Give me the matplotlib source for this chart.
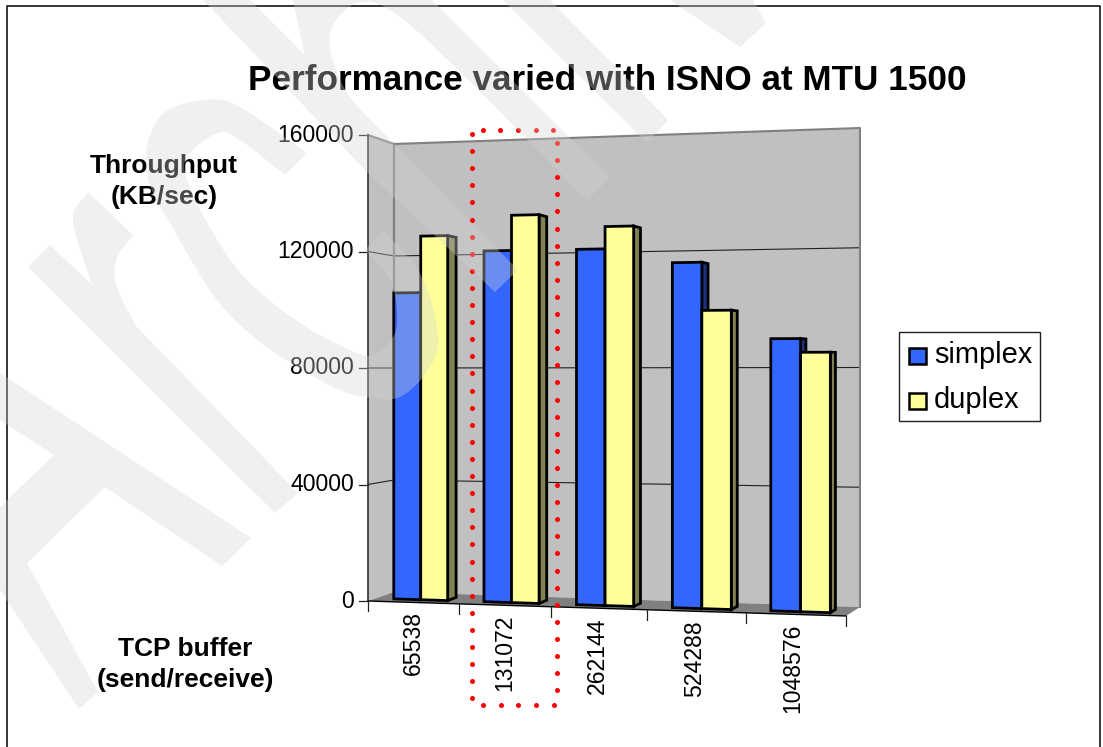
import numpy as np
import matplotlib
matplotlib.use("Agg")
import matplotlib.pyplot as plt
from matplotlib.patches import Polygon, Rectangle

plt.rcParams['font.family'] = ['Liberation Sans', 'DejaVu Sans']

# ---- data ----
categories = ['65538', '131072', '262144', '524288', '1048576']
simplex = [106000, 120000, 120000, 115000, 89500]
duplex = [125500, 132000, 127500, 99000, 85000]
value_ticks = [0, 40000, 80000, 120000, 160000]
VMAX = 160000
title = 'Performance varied with ISNO at MTU 1500'
series_names = ['simplex', 'duplex']

# ---- colours ----
BLUE, BLUE_SIDE = '#3366ff', '#1a3380'
YEL, YEL_SIDE = '#ffff99', '#808050'
WALL, FLOOR, EDGE = '#c0c0c0', '#808080', '#808080'

W, H = 1103, 747
fig = plt.figure(figsize=(W / 100, H / 100), dpi=100, facecolor='white')
ax = fig.add_axes([0, 0, 1, 1])
ax.set_xlim(0, W)
ax.set_ylim(H, 0)
ax.axis('off')

# ---- oblique projection of the 3-D chart box ----
FRONT_EDGES = np.array([368, 458.5, 551, 647, 746, 846.0])
N = len(categories)


def proj(u, d, v):
    """u: category position, d: depth 0 front..1 back, v: value."""
    xf = np.interp(u, np.arange(N + 1), FRONT_EDGES)
    t = (xf - 368) / 478
    x = xf * (1 - d) + (394 + t * 466) * d
    yb = (601 + 15 * t) * (1 - d) + (592 + 15 * t) * d
    yt = (135 - 16 * t) * (1 - d) + (144 - 16 * t) * d
    return x, yb + (yt - yb) * v / VMAX


def poly(pts, **kw):
    ax.add_patch(Polygon(pts, closed=True, **kw))


# frame
ax.plot([7, 7, 1100, 1100], [H, 6, 6, H], color='black', lw=1.1, zorder=1, clip_on=False)

# walls and floor
poly([proj(0, 1, VMAX), proj(N, 1, VMAX), proj(N, 1, 0), proj(0, 1, 0)], fc=WALL, ec='none', zorder=2)
poly([proj(0, 0, VMAX), proj(0, 1, VMAX), proj(0, 1, 0), proj(0, 0, 0)], fc=WALL, ec='none', zorder=2)
poly([proj(0, 0, 0), proj(N, 0, 0), proj(N, 1, 0), proj(0, 1, 0)], fc=FLOOR, ec='none', zorder=2)

# gridlines, ticks and value labels
for v in value_ticks:
    p0, p1, p2 = proj(0, 0, v), proj(0, 1, v), proj(N, 1, v)
    if 0 < v < VMAX:
        ax.plot([p0[0], p1[0], p2[0]], [p0[1], p1[1], p2[1]], color='#202020', lw=0.8, zorder=3)
    ax.plot([p0[0] - 9, p0[0]], [p0[1], p0[1]], color='#202020', lw=0.9, zorder=3)
    ax.text(p0[0] - 14, p0[1], str(v), ha='right', va='center', fontsize=16.6, color='black', zorder=6)

# wall edges
pts = [proj(0, 0, VMAX), proj(0, 1, VMAX), proj(N, 1, VMAX), proj(N, 1, 0)]
ax.plot(*zip(*pts), color=EDGE, lw=1.5, zorder=3)
ax.plot(*zip(proj(0, 1, VMAX), proj(0, 1, 0)), color=EDGE, lw=1.6, zorder=3)
ax.plot(*zip(proj(0, 0, VMAX), proj(0, 0, 0)), color='#303030', lw=1.2, zorder=3)

# category axis
ax.plot(*zip(proj(0, 0, 0), proj(N, 0, 0)), color='black', lw=1.0, zorder=3)
for i in range(N + 1):
    x, y = proj(i, 0, 0)
    ax.plot([x, x], [y, y + 10], color='#202020', lw=0.9, zorder=3)
for i, lab in enumerate(categories):
    x, y = proj(i + 0.5, 0, 0)
    ax.text(x + 0.5 - 0.9 * i, y + 9, lab, rotation=90, ha='center', va='top', fontsize=16.6, color='black', zorder=6)

# bars
D0, D1 = 0.30, 0.65
EW = 2.0
for i in range(N):
    for u0, u1, v, front, side, z in [(i + .2, i + .5, simplex[i], BLUE, BLUE_SIDE, 4),
                                      (i + .5, i + .8, duplex[i], YEL, YEL_SIDE, 5)]:
        style = dict(ec='black', lw=EW, joinstyle='miter')
        poly([proj(u1, D0, 0), proj(u1, D1, 0), proj(u1, D1, v), proj(u1, D0, v)], fc=side, zorder=z, **style)
        poly([proj(u0, D0, 0), proj(u1, D0, 0), proj(u1, D0, v), proj(u0, D0, v)], fc=front, zorder=z, **style)

# dotted highlight
dx = dict(color='#ff0000', s=13, lw=0, zorder=7)
ax.scatter(np.full(34, 472.0), 134 + 17.1 * np.arange(34), **dx)
ax.scatter(np.full(33, 557.0), 143 + 17.1 * np.arange(33), **dx)
ax.scatter(482.5 + 17.7 * np.arange(5), np.full(5, 130.0), **dx)
ax.scatter(483 + 17.7 * np.arange(5), np.full(5, 705.0), **dx)

# texts
ax.text(607, 90, title, ha='center', va='baseline', fontsize=25.3, fontweight='bold', zorder=6)
ax.text(164, 173, 'Throughput', ha='center', va='baseline', fontsize=19, fontweight='bold', zorder=6)
ax.text(164, 204, '(KB/sec)', ha='center', va='baseline', fontsize=19, fontweight='bold', zorder=6)
ax.text(185, 656, 'TCP buffer', ha='center', va='baseline', fontsize=19, fontweight='bold', zorder=6)
ax.text(185, 687, '(send/receive)', ha='center', va='baseline', fontsize=19, fontweight='bold', zorder=6)

# legend
ax.add_patch(Rectangle((899, 332), 141, 89, fc='white', ec='#202020', lw=1.0, zorder=6))
for y, c, name, base in [(348, BLUE, series_names[0], 363), (393, YEL, series_names[1], 408)]:
    ax.add_patch(Rectangle((909, y), 17, 16, fc=c, ec='black', lw=1.8, zorder=7))
    ax.text(934, base, name, ha='left', va='baseline', fontsize=20.9, zorder=7)


# ---- watermark ----
def spline(p, n=10):
    p = np.array(p, float)
    q = np.vstack([2 * p[0] - p[1], p, 2 * p[-1] - p[-2]])
    out = []
    for i in range(1, len(q) - 2):
        for s in np.linspace(0, 1, n, endpoint=False):
            a, b, c, d = q[i - 1], q[i], q[i + 1], q[i + 2]
            out.append(0.5 * (2 * b + (c - a) * s + (2 * a - 5 * b + 4 * c - d) * s ** 2
                              + (3 * b - a - 3 * c + d) * s ** 3))
    out.append(p[-1])
    return out


wm = dict(fc='#d4d4d4', alpha=0.35, ec='none', zorder=10)
# A
poly([(0, 373), (251, 538), (222, 566), (105, 487), (27, 563), (98, 692), (79, 709), (0, 590),
      (0, 507), (54, 455), (0, 420)], **wm)
# r
poly([(50, 245), (92, 285)] + spline([(92, 285), (73, 220), (88, 192)]) + [(133, 235)]
     + spline([(133, 235), (117, 258), (116, 285), (135, 325)]) + [(298, 493), (275, 513), (28, 267)], **wm)
# c
poly(spline([(307, 153), (240, 107), (207, 100), (165, 112), (147, 147), (150, 185), (170, 223), (217, 300),
             (267, 347), (333, 387), (367, 397), (400, 397), (428, 370), (438, 337), (422, 277), (383, 230)])
     + spline([(365, 250), (390, 280), (397, 313), (393, 337), (373, 355), (350, 350), (300, 323), (247, 280),
               (213, 233), (187, 180), (188, 155), (218, 133), (240, 140), (285, 175)]), **wm)
# h
poly([(203, 0), (250, 0), (305, 55), (293, 0), (432, 0), (610, 178), (587, 200)]
     + spline([(587, 200), (450, 62), (390, 10), (357, 3), (332, 27), (332, 57), (350, 97), (395, 145)])
     + [(518, 270), (495, 292), (368, 173)], **wm)
# i, v
poly([(503, 0), (550, 0), (668, 120), (647, 143)], **wm)
poly([(670, 0), (753, 0), (766, 23), (740, 47)], **wm)

fig.savefig('out.png', dpi=100, facecolor='white')
